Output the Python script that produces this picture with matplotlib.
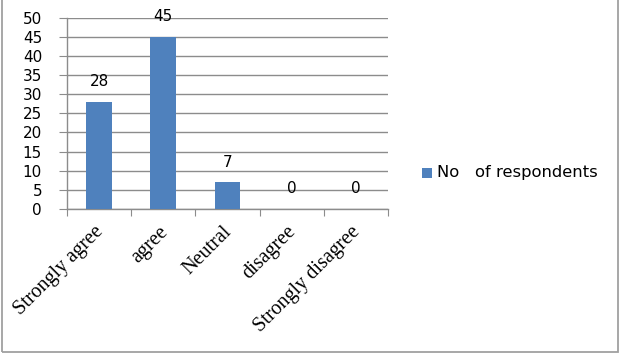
import matplotlib
matplotlib.use('Agg')
import matplotlib.pyplot as plt
from matplotlib.patches import Rectangle

categories = ['Strongly agree', 'agree', 'Neutral', 'disagree', 'Strongly disagree']
respondents = [28, 45, 7, 0, 0]
series_name = 'No   of respondents'
yticks = list(range(0, 55, 5))

bar_color = '#4F81BD'
grid_color = '#8C8C8C'

fig = plt.figure(figsize=(6.36, 3.64), dpi=100)
ax = fig.add_axes([67 / 636, 1 - 209 / 364, (388 - 67) / 636, (209 - 17.5) / 364])

x = list(range(len(categories)))
bars = ax.bar(x, respondents, width=0.4, color=bar_color, label=series_name, zorder=3)

ax.set_xlim(-0.5, len(categories) - 0.5)
ax.set_ylim(0, 50)
ax.set_yticks(yticks)
ax.set_yticklabels([str(t) for t in yticks], fontsize=11, family='DejaVu Sans')
ax.yaxis.grid(True, color=grid_color, linewidth=1, zorder=0)
ax.tick_params(axis='y', length=6, color=grid_color, pad=12)

# category boundary ticks, labels at centres
ax.set_xticks([i - 0.5 for i in range(len(categories) + 1)])
ax.set_xticklabels([])
ax.tick_params(axis='x', length=5, color=grid_color)
for i, c in enumerate(categories):
    ax.text(i - 0.08, -3.5, c, rotation=45, ha='right', va='top', rotation_mode='anchor',
            fontsize=14.5, family='Liberation Serif')

for s in ['top', 'right']:
    ax.spines[s].set_visible(False)
for s in ['left', 'bottom']:
    ax.spines[s].set_color(grid_color)
    ax.spines[s].set_linewidth(1)

for b, v in zip(bars, respondents):
    ax.text(b.get_x() + b.get_width() / 2, v + 3.3, str(v), ha='center', va='bottom',
            fontsize=11, family='DejaVu Sans')

# legend
fig.patches.append(Rectangle((422 / 636, 1 - 178 / 364), 10 / 636, 10 / 364,
                             transform=fig.transFigure, facecolor=bar_color, edgecolor='none'))
fig.text(437 / 636, 1 - 173 / 364, series_name, ha='left', va='center', fontsize=11.8,
         family='DejaVu Sans')

# outer border
fig.patches.append(Rectangle((1.5 / 636, 1 - 352 / 364), 616.5 / 636, 360 / 364,
                             transform=fig.transFigure, facecolor='none',
                             edgecolor='#A0A0A0', linewidth=1.3))

fig.savefig('out.png', dpi=100, facecolor='white')
